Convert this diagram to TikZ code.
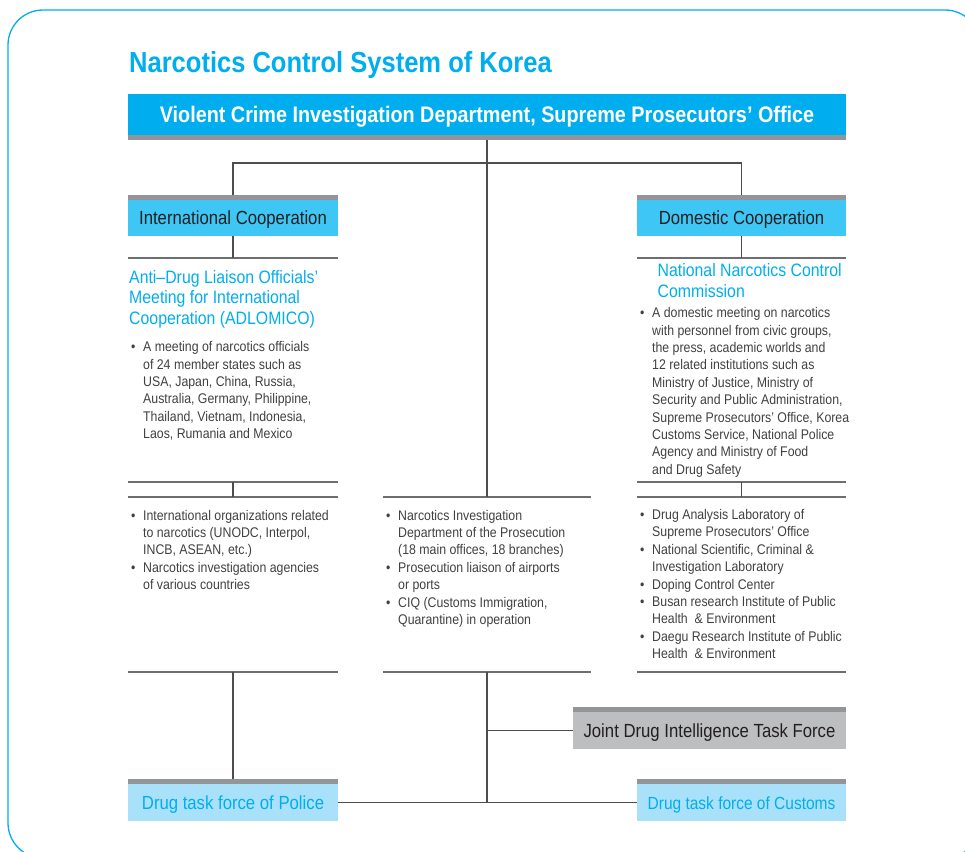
\documentclass[tikz,border=0pt]{standalone}
\usepackage{fontspec}
\setmainfont{Liberation Sans}[FakeStretch=0.88]
\usepackage{tikz}
\definecolor{skyc}{HTML}{00AEEF}
\definecolor{boxc}{HTML}{3EC6F4}
\definecolor{paleb}{HTML}{AAE1FA}
\definecolor{greyb}{HTML}{BCBEC0}
\definecolor{barc}{HTML}{939598}
\definecolor{dtext}{HTML}{231F20}
\definecolor{btext}{HTML}{404041}
\definecolor{linec}{HTML}{4D4D4F}
\definecolor{rulec}{HTML}{6D6E71}

\begin{document}
\begin{tikzpicture}[x=1pt,y=-1pt,
    unitbox/.style={inner sep=0pt,minimum height=36pt,text height=13.6pt,text depth=0pt,
      font=\fontsize{19}{22}\selectfont},
    coopbox/.style={unitbox,fill=boxc,text=dtext,minimum width=209.5pt},
    forcebox/.style={unitbox,fill=paleb,text=skyc,minimum width=209.5pt,minimum height=37pt},
    jointbox/.style={unitbox,fill=greyb,text=dtext,minimum width=273pt,minimum height=37pt},
    headtext/.style={anchor=base west,inner sep=0pt,text=skyc,font=\fontsize{18}{20.5}\selectfont},
    bodytext/.style={anchor=base west,inner sep=0pt,text=btext,font=\fontsize{14}{17.4}\selectfont},
    conn/.style={linec,line width=1.1pt},
    rule/.style={rulec,line width=1.5pt}]
  \useasboundingbox (0,0) rectangle (965,851);
  \begin{scope}
    \clip (0,0) rectangle (965,851);
    \draw[skyc,line width=1.3pt,rounded corners=35pt] (8,10) rectangle (980,858);
  \end{scope}

  % title and top unit
  \node[anchor=base west,inner sep=0pt,text=skyc,font=\fontsize{29}{34}\selectfont\bfseries]
    (title) at (129,72.7) {Narcotics Control System of Korea};
  \node[inner sep=0pt,fill=skyc,text=white,minimum width=718pt,minimum height=41pt,
    text height=16pt,text depth=0pt,
    font=\fontsize{22.5}{26}\selectfont\bfseries] (hq) at (487,114.5)
    {Violent Crime Investigation Department, Supreme Prosecutors’ Office};

  % boxes
  \node[coopbox] (intl) at (233,218) {International Cooperation};
  \node[coopbox] (dom) at (741.5,218) {Domestic Cooperation};
  \node[jointbox] (joint) at (709.5,730.5) {Joint Drug Intelligence Task Force};
  \node[forcebox] (police) at (233,802.5) {Drug task force of Police};
  \node[forcebox,font=\fontsize{17.6}{22}\selectfont] (customs) at (741.5,802.5)
    {Drug task force of Customs};

  % rules
  \foreach \y in {258,482,497,672}{
    \draw[rule] (128,\y) -- (338,\y);
    \draw[rule] (637,\y) -- (846,\y);
  }
  \foreach \y in {497,672}
    \draw[rule] (383,\y) -- (591,\y);

  \coordinate (fork) at (487,163);
  \coordinate (lr1) at (233,258);
  \coordinate (rr1) at (741.5,258);
  \coordinate (lr2) at (233,482);
  \coordinate (lr3) at (233,497);
  \coordinate (lr4) at (233,672);
  \coordinate (rr2) at (741.5,482);
  \coordinate (rr3) at (741.5,497);
  \coordinate (mr3) at (487,497);
  \coordinate (mr4) at (487,672);

  % connectors
  \draw[conn] (hq.south) -- (mr3);
  \draw[conn] (intl.north) |- (fork) -| (dom.north);
  \draw[conn] (intl.south) -- (lr1);
  \draw[conn] (dom.south) -- (rr1);
  \draw[conn] (lr2) -- (lr3);
  \draw[conn] (rr2) -- (rr3);
  \draw[conn] (lr4) -- (police.north);
  \draw[conn] (mr4) -- (mr4 |- police.east);
  \draw[conn] (mr4 |- joint.west) -- (joint.west);
  \draw[conn] (police.east) -- (customs.west);

  % grey bars
  \fill[barc] (hq.south west) rectangle ([yshift=-5pt]hq.south east);
  \foreach \n in {intl,dom,joint,police,customs}
    \fill[barc] (\n.north west) rectangle ([yshift=4.5pt]\n.north east);

  % texts
  \node[headtext] (adlomico) at (129,283.3) {\begin{tabular}[t]{@{}l@{}}
    Anti–Drug Liaison Officials’\\
    Meeting for International\\
    Cooperation (ADLOMICO)\end{tabular}};
  \node[bodytext] (adlonote) at (131,351.7) {\begin{tabular}[t]{@{}p{12pt}@{}l@{}}
    \textbullet & A meeting of narcotics officials\\
    & of 24 member states such as\\
    & USA, Japan, China, Russia,\\
    & Australia, Germany, Philippine,\\
    & Thailand, Vietnam, Indonesia,\\
    & Laos, Rumania and Mexico\end{tabular}};
  \node[headtext] (nncc) at (657.5,276.7) {\begin{tabular}[t]{@{}l@{}}
    National Narcotics Control\\
    Commission\end{tabular}};
  \node[bodytext] (nnccnote) at (640,317.7) {\begin{tabular}[t]{@{}p{12pt}@{}l@{}}
    \textbullet & A domestic meeting on narcotics\\
    & with personnel from civic groups,\\
    & the press, academic worlds and\\
    & 12 related institutions such as\\
    & Ministry of Justice, Ministry of\\
    & Security and Public Administration,\\
    & Supreme Prosecutors’ Office, Korea\\
    & Customs Service, National Police\\
    & Agency and Ministry of Food\\
    & and Drug Safety\end{tabular}};
  \node[bodytext] (intlorgs) at (131,520) {\begin{tabular}[t]{@{}p{12pt}@{}l@{}}
    \textbullet & International organizations related\\
    & to narcotics (UNODC, Interpol,\\
    & INCB, ASEAN, etc.)\\
    \textbullet & Narcotics investigation agencies\\
    & of various countries\end{tabular}};
  \node[bodytext] (prosec) at (386,520) {\begin{tabular}[t]{@{}p{12pt}@{}l@{}}
    \textbullet & Narcotics Investigation\\
    & Department of the Prosecution\\
    & (18 main offices, 18 branches)\\
    \textbullet & Prosecution liaison of airports\\
    & or ports\\
    \textbullet & CIQ (Customs Immigration,\\
    & Quarantine) in operation\end{tabular}};
  \node[bodytext] (labs) at (640,519.5) {\begin{tabular}[t]{@{}p{12pt}@{}l@{}}
    \textbullet & Drug Analysis Laboratory of\\
    & Supreme Prosecutors’ Office\\
    \textbullet & National Scientific, Criminal \&\\
    & Investigation Laboratory\\
    \textbullet & Doping Control Center\\
    \textbullet & Busan research Institute of Public\\
    & Health~ \& Environment\\
    \textbullet & Daegu Research Institute of Public\\
    & Health~ \& Environment\end{tabular}};
\end{tikzpicture}
\end{document}
